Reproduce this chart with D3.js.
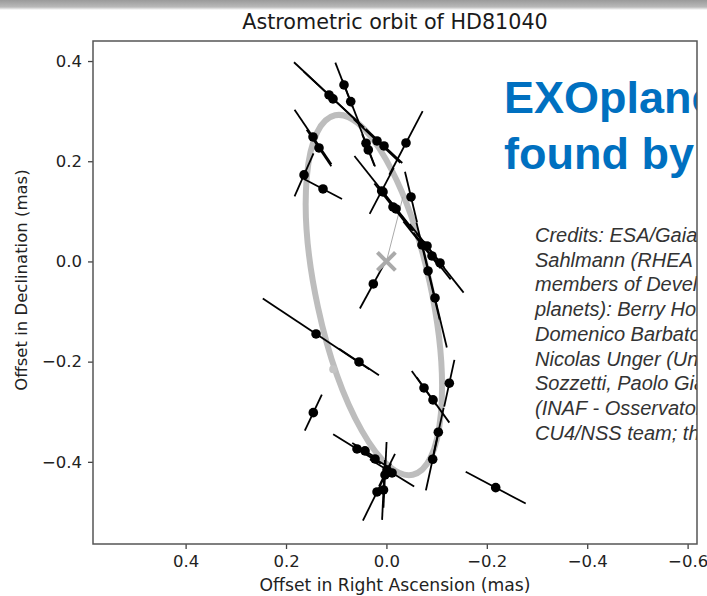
<!DOCTYPE html>
<html>
<head>
<meta charset="utf-8">
<script src="https://cdn.jsdelivr.net/npm/d3@7"></script>
<style>
  html, body { margin: 0; padding: 0; background: #fff; }
  svg { display: block; }
</style>
</head>
<body>
<svg id="chart" width="707" height="596"></svg>
<script>
// Epoch astrometry of HD81040 (offsets in mas)
const epochRA  = [0.1143, 0.1064, 0.0187, 0.0048, 0.0845, 0.0711, 0.0406, 0.0361, 0.1462, 0.1343,
                  0.1641, 0.1263, -0.0390, 0.0094, 0.0068, -0.0131, -0.0191, -0.0709, -0.0809, -0.0908,
                  -0.1068, -0.0490, -0.0829, -0.0968, 0.0261, 0.1402, 0.0546, -0.0749, -0.0928, -0.1253,
                  -0.1034, -0.0922, 0.1456, 0.0586, 0.0426, 0.0227, -0.0112, -0.0012, 0.0187, 0.0028,
                  0.0058, -0.2177];
const epochDec = [0.3323, 0.3244, 0.2405, 0.2305, 0.3523, 0.3190, 0.2359, 0.2226, 0.2485, 0.2265,
                  0.1727, 0.1447, 0.2365, 0.1407, 0.1387, 0.1088, 0.1048, 0.0329, 0.0309, 0.0110,
                  -0.0030, 0.1287, -0.0190, -0.0729, -0.0449, -0.1447, -0.2006, -0.2525, -0.2764, -0.2431,
                  -0.3409, -0.3948, -0.3018, -0.3743, -0.3782, -0.3942, -0.4222, -0.4162, -0.4601, -0.4261,
                  -0.4561, -0.4515];
// along-scan direction of each measurement (degrees) and its half-length (mas)
const scanAngle = [43.1, 43.1, 43.1, 43.1, 68.8, 68.8, 68.8, 68.8, 56.0, 56.0,
                   -66.2, 27.8, -62.4, -62.4, 51.6, 51.6, 51.6, 51.6, 51.6, 51.6,
                   51.6, 76.6, 76.6, 76.6, -61.4, 33.7, 33.7, 54.3, 54.3, -77.7,
                   -77.7, -77.7, -64.8, 31.7, 31.7, 31.7, 31.7, -63.8, -63.8, -87.3,
                   -87.3, 28.0];
const epochErr  = [0.0956, 0.0797, 0.0637, 0.0498, 0.0478, 0.0478, 0.0498, 0.0339, 0.0657, 0.0438,
                   0.0468, 0.0428, 0.0717, 0.0518, 0.0916, 0.0598, 0.0558, 0.0598, 0.0558, 0.0598,
                   0.0757, 0.0518, 0.0996, 0.1016, 0.0558, 0.1275, 0.0478, 0.0418, 0.0558, 0.0478,
                   0.0498, 0.0637, 0.0398, 0.0558, 0.0299, 0.0299, 0.0518, 0.0359, 0.0637, 0.0657,
                   0.0598, 0.0677];

// Orbit model
const orbitCenter = [0.025, -0.067];
const orbitSemiMajor = 0.367;
const orbitSemiMinor = 0.114;
const orbitTilt = 12.2;               // degrees, major axis leaning east of north
const periLine = [[0, 0], [-0.033, 0.129]];
const orbitMarker = [0.106, -0.215];

const xTicks = [0.4, 0.2, 0.0, -0.2, -0.4, -0.6];
const yTicks = [0.4, 0.2, 0.0, -0.2, -0.4];

const titleText = "Astrometric orbit of HD81040";
const xLabel = "Offset in Right Ascension (mas)";
const yLabel = "Offset in Declination (mas)";
const headline = ["EXOplanets", "found by Gaia"];
const credits = [
  "Credits: ESA/Gaia/DPAC; Johannes",
  "Sahlmann (RHEA Group for ESA) on",
  "members of Development Unit",
  "planets): Berry Holl (University",
  "Domenico Barbato (University",
  "Nicolas Unger (University of",
  "Sozzetti, Paolo Giacobbe",
  "(INAF - Osservatorio Astrofisico",
  "CU4/NSS team; the"
];

const plotLeft = 93, plotRight = 697, plotTop = 41, plotBottom = 544;
const x = d3.scaleLinear().domain([0.5845, -0.6187]).range([plotLeft, plotRight]);
const y = d3.scaleLinear().domain([0.44, -0.564]).range([plotTop, plotBottom]);

const svg = d3.select("#chart");
const defs = svg.append("defs");

// soft grey band along the top edge
const grad = defs.append("linearGradient").attr("id", "topband").attr("x1", 0).attr("y1", 0).attr("x2", 0).attr("y2", 1);
grad.append("stop").attr("offset", "0%").attr("stop-color", "#9a9a9a");
grad.append("stop").attr("offset", "70%").attr("stop-color", "#b9b9b9");
grad.append("stop").attr("offset", "100%").attr("stop-color", "#ffffff");
svg.append("rect").attr("x", 0).attr("y", 0).attr("width", 707).attr("height", 10).attr("fill", "url(#topband)");

defs.append("clipPath").attr("id", "plotclip")
  .append("rect").attr("x", plotLeft).attr("y", plotTop).attr("width", plotRight - plotLeft).attr("height", plotBottom - plotTop);
defs.append("clipPath").attr("id", "textclip")
  .append("rect").attr("x", 0).attr("y", 0).attr("width", plotRight).attr("height", 596);

const font = "'DejaVu Sans', sans-serif";
const plot = svg.append("g").attr("clip-path", "url(#plotclip)");

// orbit ellipse
const cx = x(orbitCenter[0]), cy = y(orbitCenter[1]);
plot.append("ellipse")
  .attr("cx", cx).attr("cy", cy)
  .attr("rx", Math.abs(x(orbitSemiMinor) - x(0)))
  .attr("ry", Math.abs(y(orbitSemiMajor) - y(0)))
  .attr("transform", `rotate(${-orbitTilt},${cx},${cy})`)
  .attr("fill", "none").attr("stroke", "#bdbdbd").attr("stroke-width", 6);

plot.append("circle")
  .attr("cx", x(orbitMarker[0])).attr("cy", y(orbitMarker[1])).attr("r", 4)
  .attr("fill", "#c4c4c4");

plot.append("line")
  .attr("x1", x(periLine[0][0])).attr("y1", y(periLine[0][1]))
  .attr("x2", x(periLine[1][0])).attr("y2", y(periLine[1][1]))
  .attr("stroke", "#aaaaaa").attr("stroke-width", 1);

const idx = d3.range(epochRA.length);
const rad = Math.PI / 180;

// along-scan error bars
plot.append("g").selectAll("line").data(idx).join("line")
  .attr("x1", i => x(epochRA[i] + epochErr[i] * Math.cos(scanAngle[i] * rad)))
  .attr("y1", i => y(epochDec[i] + epochErr[i] * Math.sin(scanAngle[i] * rad)))
  .attr("x2", i => x(epochRA[i] - epochErr[i] * Math.cos(scanAngle[i] * rad)))
  .attr("y2", i => y(epochDec[i] - epochErr[i] * Math.sin(scanAngle[i] * rad)))
  .attr("stroke", "#000").attr("stroke-width", 1.8);

plot.append("g").selectAll("circle").data(idx).join("circle")
  .attr("cx", i => x(epochRA[i])).attr("cy", i => y(epochDec[i])).attr("r", 4.8)
  .attr("fill", "#000");

// origin marker
const ox = x(0), oy = y(0), arm = 9;
plot.append("path")
  .attr("d", `M${ox - arm},${oy - arm}L${ox + arm},${oy + arm}M${ox - arm},${oy + arm}L${ox + arm},${oy - arm}`)
  .attr("stroke", "#aaaaaa").attr("stroke-width", 4).attr("fill", "none");

// axes
const fmt = d3.format(".1f");
const xAxis = svg.append("g").attr("transform", `translate(0,${plotBottom})`)
  .call(d3.axisBottom(x).tickValues(xTicks).tickFormat(fmt).tickSize(5).tickPadding(6));
const yAxis = svg.append("g").attr("transform", `translate(${plotLeft},0)`)
  .call(d3.axisLeft(y).tickValues(yTicks).tickFormat(fmt).tickSize(5).tickPadding(6));
[xAxis, yAxis].forEach(a => {
  a.select(".domain").remove();
  a.selectAll(".tick line").attr("stroke", "#444").attr("stroke-width", 1.3);
  a.selectAll(".tick text").attr("fill", "#222").style("font-family", font).style("font-size", "16.5px");
});

svg.append("text").attr("x", (plotLeft + plotRight) / 2).attr("y", 29).attr("text-anchor", "middle")
  .style("font-family", font).style("font-size", "20.7px").attr("fill", "#1a1a1a").text(titleText);
svg.append("text").attr("x", (plotLeft + plotRight) / 2).attr("y", 591).attr("text-anchor", "middle")
  .style("font-family", font).style("font-size", "17.2px").attr("fill", "#222").text(xLabel);
svg.append("text").attr("transform", `translate(27,280) rotate(-90)`).attr("text-anchor", "middle")
  .style("font-family", font).style("font-size", "16.5px").attr("fill", "#222").text(yLabel);

// overlay text
const overlay = svg.append("g").attr("clip-path", "url(#textclip)");
overlay.selectAll("text.head").data(headline).join("text").attr("class", "head")
  .attr("x", 504).attr("y", (d, i) => 113 + i * 56)
  .style("font-family", "'Liberation Sans', Arial, sans-serif").style("font-weight", "bold")
  .style("font-size", "45px").attr("fill", "#0070c0").text(d => d);
overlay.selectAll("text.credit").data(credits).join("text").attr("class", "credit")
  .attr("x", 535).attr("y", (d, i) => 242 + i * 24.7)
  .style("font-family", "'Liberation Sans', Arial, sans-serif").style("font-style", "italic")
  .style("font-size", "20px").attr("fill", "#333").text(d => d);

// frame
svg.append("rect").attr("x", plotLeft).attr("y", plotTop).attr("width", plotRight - plotLeft).attr("height", plotBottom - plotTop)
  .attr("fill", "none").attr("stroke", "#555").attr("stroke-width", 1.5);
</script>
</body>
</html>
